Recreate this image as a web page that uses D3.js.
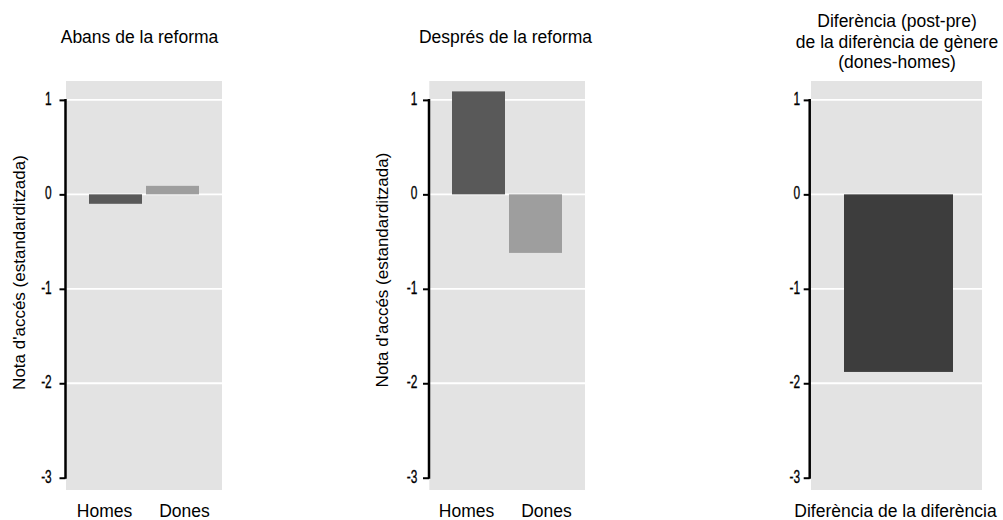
<!DOCTYPE html>
<html><head><meta charset="utf-8">
<script src="https://cdn.jsdelivr.net/npm/d3@7"></script>
<style>body{margin:0;background:#fff}</style>
</head><body>
<svg id="c" width="1003" height="520"></svg>
<script>
// ---- data ----
const categories = ["Homes", "Dones"];
const beforeValues = [-0.10, 0.09];
const afterValues = [1.09, -0.62];
const diffCategories = ["Diferència de la diferència"];
const diffValues = [-1.88];
const yTicks = [1, 0, -1, -2, -3];
const gridValues = [1, 0, -1, -2];
const panelTitles = [
  ["Abans de la reforma"],
  ["Després de la reforma"],
  ["Diferència (post-pre)", "de la diferència de gènere", "(dones-homes)"]
];
const yLabel = "Nota d'accés (estandarditzada)";
const catColors = ["#595959", "#9e9e9e"];
const diffColor = "#3d3d3d";

// ---- layout ----
const svg = d3.select("#c");
const y = d3.scaleLinear().domain([-3.13, 1.2]).range([490, 81]);
const FONT = "'Liberation Sans', Arial, Helvetica, sans-serif";

const panels = [
  { cats: categories, vals: beforeValues, colors: catColors, left: 66, right: 222,
    barL: 89, barR: 199, pad: 4/57, axisX: 65.5, labRight: 51.7,
    titleX: 139.5, titleY: [43], ylab: {x: 24.5, y: 272.5},
    xlabs: [104.5, 184.5] },
  { cats: categories, vals: afterValues, colors: catColors, left: 429.3, right: 585,
    barL: 452, barR: 562, pad: 4/57, axisX: 429, labRight: 417.3,
    titleX: 505.5, titleY: [43], ylab: {x: 388, y: 270},
    xlabs: [466.5, 546.5] },
  { cats: diffCategories, vals: diffValues, colors: [diffColor], left: 811, right: 982,
    barL: 844, barR: 953, pad: 0, axisX: 809.7, labRight: 800,
    titleX: 897, titleY: [27, 47.5, 68], ylab: null,
    xlabs: [895.5] }
];

panels.forEach((p, i) => {
  const g = svg.append("g");
  // background
  g.append("rect").attr("x", p.left).attr("y", y.range()[1])
    .attr("width", p.right - p.left).attr("height", y.range()[0] - y.range()[1])
    .attr("fill", "#e3e3e3");
  // grid
  g.selectAll("line.grid").data(gridValues).join("line")
    .attr("x1", p.left).attr("x2", p.right)
    .attr("y1", d => y(d)).attr("y2", d => y(d))
    .attr("stroke", "#fff").attr("stroke-width", 1.8);
  // bars
  const x = d3.scaleBand().domain(p.cats).range([p.barL, p.barR])
    .paddingInner(p.pad).paddingOuter(0);
  g.selectAll("rect.bar").data(p.vals).join("rect")
    .attr("x", (d, j) => x(p.cats[j]))
    .attr("width", x.bandwidth())
    .attr("y", d => y(Math.max(0, d)))
    .attr("height", d => Math.abs(y(d) - y(0)))
    .attr("fill", (d, j) => p.colors[j]);
  // axis
  const ax = g.append("g").attr("transform", `translate(${p.axisX},0)`)
    .call(d3.axisLeft(y).tickValues(yTicks).tickSize(6).tickFormat(d => String(d)));
  ax.select(".domain").remove();
  ax.selectAll(".tick line").attr("stroke", "#000").attr("stroke-width", 2);
  ax.selectAll(".tick text")
    .attr("x", null).attr("dy", null)
    .attr("text-anchor", "end")
    .attr("transform", `translate(${p.labRight - p.axisX},4.5) scale(0.66,1)`)
    .attr("font-family", FONT).attr("font-size", 18).attr("fill", "#000")
    .attr("stroke", "#000").attr("stroke-width", 0.35);
  g.append("line").attr("x1", p.axisX).attr("x2", p.axisX)
    .attr("y1", y(yTicks[0]) - 1).attr("y2", y(yTicks[yTicks.length - 1]) + 1)
    .attr("stroke", "#000").attr("stroke-width", 2.5);
  // title
  panelTitles[i].forEach((t, k) => {
    g.append("text").attr("x", p.titleX).attr("y", p.titleY[k])
      .attr("text-anchor", "middle").attr("font-family", FONT)
      .attr("font-size", 17.5).attr("fill", "#000").text(t);
  });
  // x labels
  p.cats.forEach((c, j) => {
    g.append("text").attr("x", p.xlabs[j]).attr("y", 517.3)
      .attr("text-anchor", "middle").attr("font-family", FONT)
      .attr("font-size", 17.5).attr("fill", "#000").text(c);
  });
  // y label
  if (p.ylab) {
    g.append("text")
      .attr("transform", `translate(${p.ylab.x},${p.ylab.y}) rotate(-90)`)
      .attr("text-anchor", "middle").attr("font-family", FONT)
      .attr("font-size", 17).attr("fill", "#000").text(yLabel);
  }
});
</script>
</body></html>
